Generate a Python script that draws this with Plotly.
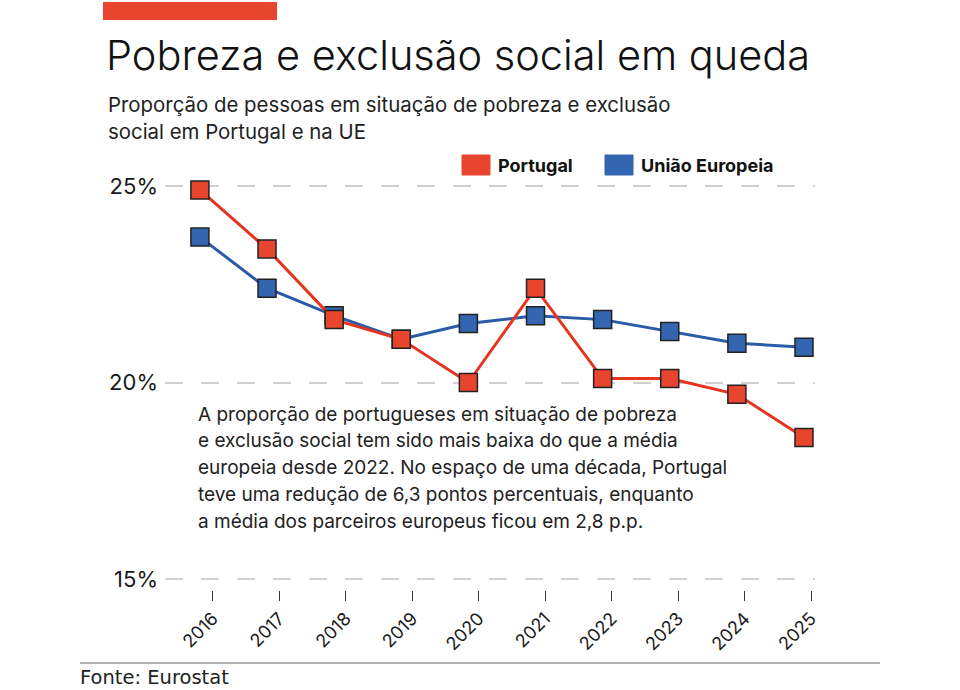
import plotly.graph_objects as go

# ---------------- data ----------------
years = [2016, 2017, 2018, 2019, 2020, 2021, 2022, 2023, 2024, 2025]
portugal = [24.9, 23.4, 21.6, 21.1, 20.0, 22.4, 20.1, 20.1, 19.7, 18.6]
uniao_europeia = [23.7, 22.4, 21.7, 21.1, 21.5, 21.7, 21.6, 21.3, 21.0, 20.9]
y_ticks = [15, 20, 25]
y_tick_labels = ["15%", "20%", "25%"]
series_names = ["Portugal", "União Europeia"]

title = "Pobreza e exclusão social em queda"
subtitle_lines = ["Proporção de pessoas em situação de pobreza e exclusão",
                  "social em Portugal e na UE"]
note_lines = ["A proporção de portugueses em situação de pobreza",
              "e exclusão social tem sido mais baixa do que a média",
              "europeia desde 2022. No espaço de uma década, Portugal",
              "teve uma redução de 6,3 pontos percentuais, enquanto",
              "a média dos parceiros europeus ficou em 2,8 p.p."]
source = "Fonte: Eurostat"

# ---------------- style ----------------
W, H = 960, 690
L, R, T, B = 165, 815, 150, 590   # plot area in pixels
RED = "#E8452F"
RED_LINE = "#E5341F"
BLUE = "#3465B0"
BLUE_LINE = "#2B5BA8"
FONT = "Inter, 'Noto Sans', sans-serif"
TITLE_FONT = "'Inter Light', Inter, 'Noto Sans', sans-serif"
TXT = "#1a1a1a"


def px(x):
    return (x - L) / (R - L)


def py(y):
    return (B - y) / (B - T)


fig = go.Figure()

fig.add_trace(go.Scatter(
    x=years, y=uniao_europeia, name=series_names[1], mode="lines+markers",
    line=dict(color=BLUE_LINE, width=3),
    marker=dict(symbol="square", size=18, color=BLUE, line=dict(color="#222", width=1.5)),
    showlegend=False, xaxis="x", yaxis="y"))
fig.add_trace(go.Scatter(
    x=years, y=portugal, name=series_names[0], mode="lines+markers",
    line=dict(color=RED_LINE, width=3),
    marker=dict(symbol="square", size=18, color=RED, line=dict(color="#222", width=1.5)),
    showlegend=False, xaxis="x", yaxis="y"))
# invisible trace carrying the tick axis
fig.add_trace(go.Scatter(
    x=years, y=portugal, mode="markers", marker=dict(opacity=0),
    hoverinfo="skip", showlegend=False, xaxis="x2", yaxis="y"))

fig.update_layout(
    width=W, height=H,
    margin=dict(l=L, r=W - R, t=T, b=H - B),
    plot_bgcolor="white", paper_bgcolor="white",
    font=dict(family=FONT, color=TXT),
    xaxis=dict(range=[2015.48, 2025.164], showgrid=False, zeroline=False,
               showticklabels=False, ticks="", showline=False),
    xaxis2=dict(range=[2015.28, 2025.06], overlaying="x", anchor="y", side="bottom",
                tickvals=years, ticktext=[str(y) for y in years],
                ticks="outside", ticklen=10, tickwidth=1.2, tickcolor="#333",
                tickangle=-45, tickfont=dict(size=18, color=TXT),
                showgrid=False, zeroline=False, showline=False),
    yaxis=dict(range=[15 - (B - 579) / 39.3, 25 + (186 - T) / 39.3],
               tickvals=y_ticks, ticktext=y_tick_labels,
               tickfont=dict(size=22, color=TXT),
               showgrid=True, gridcolor="#d0d0d0", gridwidth=1.5, griddash="18px,18px",
               zeroline=False, showline=False, ticks="", ticklabelstandoff=6),
)

ann = []
ann.append(dict(text=title, x=px(104), y=py(55), xref="paper", yref="paper",
                xanchor="left", yanchor="middle", showarrow=False,
                font=dict(size=41.5, color="#111", family=TITLE_FONT, weight=300)))
for i, line in enumerate(subtitle_lines):
    ann.append(dict(text=line, x=px(106), y=py(104 + 27 * i), xref="paper", yref="paper",
                    xanchor="left", yanchor="middle", showarrow=False,
                    font=dict(size=20.4, color="#222", family=FONT)))
for i, line in enumerate(note_lines):
    ann.append(dict(text=line, x=px(196), y=py(414 + 26.75 * i), xref="paper", yref="paper",
                    xanchor="left", yanchor="middle", showarrow=False,
                    font=dict(size=19, color="#222", family=FONT)))
# legend labels
ann.append(dict(text="<b>" + series_names[0] + "</b>", x=px(496), y=py(165),
                xref="paper", yref="paper", xanchor="left", yanchor="middle",
                showarrow=False, font=dict(size=18, color="#111", family=FONT)))
ann.append(dict(text="<b>" + series_names[1] + "</b>", x=px(639), y=py(165),
                xref="paper", yref="paper", xanchor="left", yanchor="middle",
                showarrow=False, font=dict(size=18, color="#111", family=FONT)))
ann.append(dict(text=source, x=px(79), y=py(677), xref="paper", yref="paper",
                xanchor="left", yanchor="middle", showarrow=False, borderpad=0,
                font=dict(size=19.5, color="#222", family="'DejaVu Sans', sans-serif")))
fig.update_layout(annotations=ann)

shapes = [
    dict(type="rect", xref="paper", yref="paper", x0=px(103), x1=px(277), y0=py(2), y1=py(20),
         fillcolor=RED, line=dict(width=0)),
    dict(type="rect", xref="paper", yref="paper", x0=px(462), x1=px(490), y0=py(155), y1=py(175),
         fillcolor=RED, line=dict(color="#E8452F", width=1)),
    dict(type="rect", xref="paper", yref="paper", x0=px(605), x1=px(633), y0=py(155), y1=py(175),
         fillcolor=BLUE, line=dict(color=BLUE, width=1)),
    dict(type="line", xref="paper", yref="paper", x0=px(80), x1=px(880), y0=py(663), y1=py(663),
         line=dict(color="#999", width=1.5)),
]
fig.update_layout(shapes=shapes)

fig.write_html("out.html")
